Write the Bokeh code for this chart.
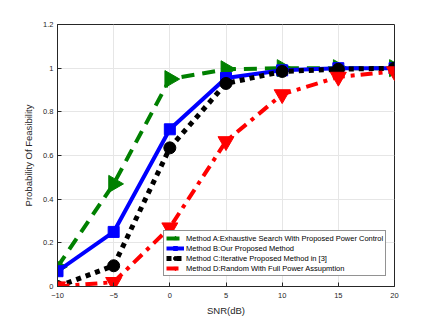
import numpy as np
from bokeh.plotting import figure
from bokeh.models import Legend, LegendItem, FixedTicker, Range1d
from bokeh.embed import file_html
from bokeh.resources import INLINE

snr = [-10, -5, 0, 5, 10, 15, 20]
method_a = [0.09, 0.47, 0.95, 0.995, 1.0, 1.0, 1.0]
method_b = [0.07, 0.25, 0.72, 0.955, 0.99, 1.0, 1.0]
method_c = [0.0, 0.095, 0.635, 0.93, 0.985, 0.995, 1.0]
method_d = [0.0, 0.02, 0.27, 0.665, 0.88, 0.96, 0.985]
labels = [
    "Method A:Exhaustive Search With Proposed Power Control",
    "Method B:Our Proposed Method",
    "Method C:Iterative Proposed Method in [3]",
    "Method D:Random With Full Power Assupmtion",
]
x_ticks = [-10, -5, 0, 5, 10, 15, 20]
y_ticks = [0, 0.2, 0.4, 0.6, 0.8, 1.0, 1.2]

FONT = "Liberation Sans"
p = figure(width=420, height=318, output_backend="svg", toolbar_location=None,
           x_range=Range1d(-10, 20), y_range=Range1d(0, 1.2),
           min_border_left=57, min_border_right=26, min_border_top=24, min_border_bottom=27)
p.background_fill_color = "white"
p.border_fill_color = "white"
p.outline_line_color = "#262626"
p.outline_line_width = 1

for ax in (p.xaxis[0], p.yaxis[0]):
    ax.major_tick_in = 4
    ax.major_tick_out = 0
    ax.minor_tick_in = 0
    ax.minor_tick_out = 0
    ax.axis_line_color = "#262626"
    ax.major_tick_line_color = "#262626"
    ax.major_label_text_font = FONT
    ax.major_label_text_font_size = "7.5px"
    ax.major_label_text_color = "#262626"
    ax.axis_label_text_font = FONT
    ax.axis_label_text_font_size = "9.5px"
    ax.axis_label_text_font_style = "normal"
    ax.axis_label_text_color = "#262626"

p.xaxis.ticker = FixedTicker(ticks=x_ticks)
p.yaxis.ticker = FixedTicker(ticks=y_ticks)
p.yaxis.major_label_overrides = {0: "0", 1.0: "1", 1.2: "1.2"}
p.xaxis.axis_label = "SNR(dB)"
p.yaxis.axis_label = "Probability Of Feasibility"
p.xaxis.major_label_standoff = 6
p.yaxis.major_label_standoff = 4
p.xaxis.axis_label_standoff = 4
p.yaxis.axis_label_standoff = 6

p.grid.grid_line_color = "#e6e6e6"
p.grid.grid_line_width = 1

# Method A
la = p.line(snr, method_a, line_color="green", line_width=4, line_dash="13 8")
sa = p.scatter(snr, method_a, marker="triangle", angle=-np.pi / 2, size=17,
               fill_color="green", line_color="green")
# Method B
lb = p.line(snr, method_b, line_color="blue", line_width=4)
sb = p.scatter(snr, method_b, marker="square", size=11, fill_color="blue", line_color="blue")
# Method C
lc = p.line(snr, method_c, line_color="black", line_width=5, line_dash="5 5")
sc = p.scatter(snr, method_c, marker="circle", size=12, fill_color="black", line_color="black")
# Method D
ld = p.line(snr, method_d, line_color="red", line_width=4, line_dash="12 6 4 6")
sd = p.scatter(snr, method_d, marker="inverted_triangle", size=16, fill_color="red", line_color="red")

items = [
    LegendItem(label=labels[0], renderers=[la, sa]),
    LegendItem(label=labels[1], renderers=[lb, sb]),
    LegendItem(label=labels[2], renderers=[lc, sc]),
    LegendItem(label=labels[3], renderers=[ld, sd]),
]
legend = Legend(items=items, location=(106, 10), label_text_font=FONT,
                label_text_font_size="7.5px", label_text_font_style="normal",
                label_text_color="black",
                glyph_width=18, glyph_height=10, label_height=10, label_standoff=2,
                spacing=0, padding=2, margin=0,
                border_line_color="#262626", border_line_width=1,
                background_fill_color="white", background_fill_alpha=1)
p.add_layout(legend, "center")

open("out.html", "w").write(file_html(p, INLINE))
